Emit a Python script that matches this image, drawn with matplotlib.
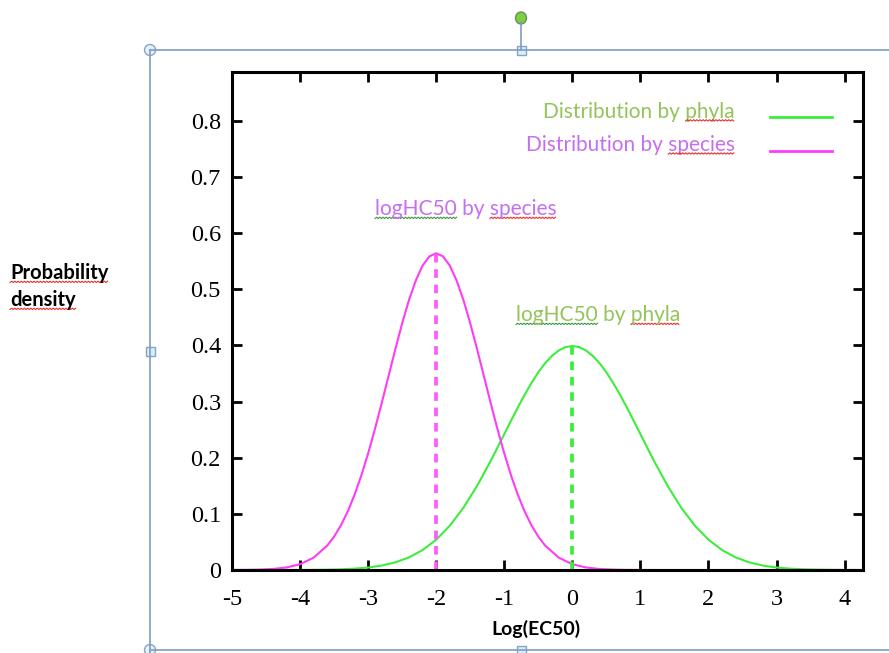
import matplotlib
matplotlib.use("Agg")
import matplotlib.pyplot as plt
import numpy as np
from matplotlib.lines import Line2D
from matplotlib.patches import Rectangle, Ellipse
from matplotlib.transforms import IdentityTransform

# densidade por filo
x_phyla = [-5.0, -4.8, -4.6, -4.4, -4.2, -4.0, -3.8, -3.6, -3.4, -3.2, -3.0,
           -2.8, -2.6, -2.4, -2.2, -2.0, -1.8, -1.6, -1.4, -1.2, -1.0,
           -0.9, -0.8, -0.7, -0.6, -0.5, -0.4, -0.3, -0.2, -0.1, 0.0,
           0.1, 0.2, 0.3, 0.4, 0.5, 0.6, 0.7, 0.8, 0.9, 1.0,
           1.2, 1.4, 1.6, 1.8, 2.0, 2.2, 2.4, 2.6, 2.8, 3.0,
           3.2, 3.4, 3.6, 3.8, 4.0, 4.27]
y_phyla = [0.0, 0.0, 0.0, 0.0, 0.0001, 0.0001, 0.0003, 0.0006, 0.0012, 0.0024, 0.0044,
           0.0079, 0.0136, 0.0224, 0.0355, 0.0540, 0.0790, 0.1109, 0.1497, 0.1942, 0.2420,
           0.2661, 0.2897, 0.3123, 0.3332, 0.3521, 0.3683, 0.3814, 0.3910, 0.3970, 0.3989,
           0.3970, 0.3910, 0.3814, 0.3683, 0.3521, 0.3332, 0.3123, 0.2897, 0.2661, 0.2420,
           0.1942, 0.1497, 0.1109, 0.0790, 0.0540, 0.0355, 0.0224, 0.0136, 0.0079, 0.0044,
           0.0024, 0.0012, 0.0006, 0.0003, 0.0001, 0.0]

# densidade por espécie
x_species = [-5.0, -4.8, -4.6, -4.4, -4.2, -4.0, -3.8, -3.6, -3.5, -3.4, -3.3, -3.2, -3.1,
             -3.0, -2.9, -2.8, -2.7, -2.6, -2.5, -2.4, -2.3, -2.2, -2.1, -2.0,
             -1.9, -1.8, -1.7, -1.6, -1.5, -1.4, -1.3, -1.2, -1.1, -1.0,
             -0.9, -0.8, -0.7, -0.6, -0.5, -0.4, -0.2, 0.0, 0.2, 0.4, 0.6, 0.8, 1.0, 1.2, 4.27]
y_species = [0.0001, 0.0002, 0.0007, 0.0018, 0.0045, 0.0103, 0.0221, 0.0436, 0.0595, 0.0795, 0.1041, 0.1337, 0.1683,
             0.2076, 0.2510, 0.2975, 0.3456, 0.3936, 0.4394, 0.4808, 0.5156, 0.5421, 0.5586, 0.5642,
             0.5586, 0.5421, 0.5156, 0.4808, 0.4394, 0.3936, 0.3456, 0.2975, 0.2510, 0.2076,
             0.1683, 0.1337, 0.1041, 0.0795, 0.0595, 0.0436, 0.0221, 0.0103, 0.0045, 0.0018, 0.0007, 0.0002, 0.0001, 0.0, 0.0]

hc50_phyla = 0.0
hc50_species = -2.0

x_ticks = [-5, -4, -3, -2, -1, 0, 1, 2, 3, 4]
y_ticks = [0, 0.1, 0.2, 0.3, 0.4, 0.5, 0.6, 0.7, 0.8]
y_tick_labels = ["0", "0.1", "0.2", "0.3", "0.4", "0.5", "0.6", "0.7", "0.8"]

verde = "#3ded3d"
magenta = "#ff3cf5"
txt_verde = "#93c45a"
txt_violeta = "#c76ef0"

W, H = 889, 653
fig = plt.figure(figsize=(W / 100, H / 100), dpi=100)
fig.patch.set_facecolor("white")


def fx(px):
    return px / W


def fy(py):
    return 1 - py / H


ax = fig.add_axes([fx(232), fy(570), fx(863) - fx(232), fy(72) - fy(570)])
ax.plot(x_phyla, y_phyla, color=verde, lw=1.5)
ax.plot(x_species, y_species, color=magenta, lw=1.5)
ax.plot([hc50_species, hc50_species], [0, max(y_species)], color="#ff5cf8",
        lw=2.7, ls=(0, (2.3, 1.8)))
ax.plot([hc50_phyla, hc50_phyla], [0, max(y_phyla)], color=verde,
        lw=2.7, ls=(0, (2.3, 1.8)))

ax.set_xlim(-5, 4.27)
ax.set_ylim(0, 0.887)
ax.set_xticks(x_ticks)
ax.set_xticklabels([str(v) for v in x_ticks])
ax.set_yticks(y_ticks)
ax.set_yticklabels(y_tick_labels)
ax.tick_params(direction="in", length=7, width=2, top=True, right=True,
               labelsize=17.5)
ax.tick_params(axis="x", pad=14)
ax.tick_params(axis="y", pad=8)
for lab in ax.get_xticklabels() + ax.get_yticklabels():
    lab.set_family("Liberation Serif")
for sp in ax.spines.values():
    sp.set_linewidth(2.2)

# legenda manual (texto alinhado à direita, linha à direita)
fonte = "Lato"
tam = 15
ax_w = 863 - 232
leg1 = ax.text((735 - 232) / ax_w, 0.806 / 0.887 + 0.012, "Distribution by phyla",
               color=txt_verde, fontsize=tam, family=fonte, ha="right", va="center",
               transform=ax.transAxes)
leg2 = ax.text((735 - 232) / ax_w, 0.747 / 0.887 + 0.012, "Distribution by species",
               color=txt_violeta, fontsize=tam, family=fonte, ha="right", va="center",
               transform=ax.transAxes)
x_l0, x_l1 = (770 - 232) / ax_w, (832 - 232) / ax_w
ax.plot([x_l0, x_l1], [0.806 / 0.887, 0.806 / 0.887], color=verde, lw=2.0,
        transform=ax.transAxes, clip_on=False)
ax.plot([x_l0, x_l1], [0.747 / 0.887, 0.747 / 0.887], color=magenta, lw=2.0,
        transform=ax.transAxes, clip_on=False)

ann1 = fig.text(fx(375), fy(209), "logHC50 by species", color=txt_violeta,
                fontsize=tam, family=fonte, ha="left", va="center")
ann2 = fig.text(fx(516), fy(315), "logHC50 by phyla", color=txt_verde,
                fontsize=tam, family=fonte, ha="left", va="center")

ylab1 = fig.text(fx(10), fy(273), "Probability", fontsize=14.5, family=fonte,
                 weight="bold", ha="left", va="center")
ylab2 = fig.text(fx(10), fy(300), "density", fontsize=14.5, family=fonte,
                 weight="bold", ha="left", va="center")
xlab = fig.text(fx(536), fy(629), "Log(EC50)", fontsize=14, family=fonte,
                weight="bold", ha="center", va="center")

# moldura de seleção (estilo Word)
azul = "#7f9cc0"
fig.add_artist(Line2D([fx(150), fx(889)], [fy(50), fy(50)], color=azul, lw=1.2))
fig.add_artist(Line2D([fx(150), fx(150)], [fy(50), fy(653)], color=azul, lw=1.2))
fig.add_artist(Line2D([fx(150), fx(889)], [fy(650), fy(650)], color=azul, lw=1.2))
fig.add_artist(Line2D([fx(521), fx(521)], [fy(22), fy(50)], color=azul, lw=1.2))
for (px, py) in [(150, 50), (150, 650)]:
    fig.add_artist(Ellipse((fx(px), fy(py)), 11 / W, 11 / H, facecolor="#e4f3fa",
                           edgecolor="#8aa3c2", lw=1))
for (px, py) in [(521, 50), (150, 351), (521, 650)]:
    fig.add_artist(Rectangle((fx(px - 4.5), fy(py + 4.5)), 9 / W, 9 / H,
                             facecolor="#d6f0fb", edgecolor="#8aa3c2", lw=1))
fig.add_artist(Ellipse((fx(521), fy(18)), 11 / W, 12 / H, facecolor="#7ad23c",
                       edgecolor="#6e8a6e", lw=1))

# sublinhados ondulados do corretor
fig.canvas.draw()
rend = fig.canvas.get_renderer()


def largura(txt, s):
    if not s:
        return 0.0
    t = fig.text(0, 0, s, fontproperties=txt.get_fontproperties())
    w = t.get_window_extent(rend).width
    t.remove()
    return w


def ondulado(txt, ini, fim, cor):
    bb = txt.get_window_extent(rend)
    s = txt.get_text()
    x0 = bb.x0 + largura(txt, s[:ini])
    x1 = bb.x0 + largura(txt, s[:fim])
    xs = np.arange(x0, x1, 1.6)
    ys = bb.y0 + 0.5 + 1.3 * (np.arange(len(xs)) % 2)
    fig.add_artist(Line2D(xs, ys, color=cor, lw=0.8, transform=IdentityTransform()))


vermelho = "#e8302a"
verde_esc = "#3a9a3a"
ondulado(leg1, 16, 21, vermelho)
ondulado(leg2, 16, 23, vermelho)
ondulado(ann1, 0, 7, verde_esc)
ondulado(ann1, 11, 18, vermelho)
ondulado(ann2, 0, 7, verde_esc)
ondulado(ann2, 11, 16, vermelho)
ondulado(ylab1, 0, 11, vermelho)
ondulado(ylab2, 0, 7, vermelho)

fig.savefig("out.png", dpi=100)
